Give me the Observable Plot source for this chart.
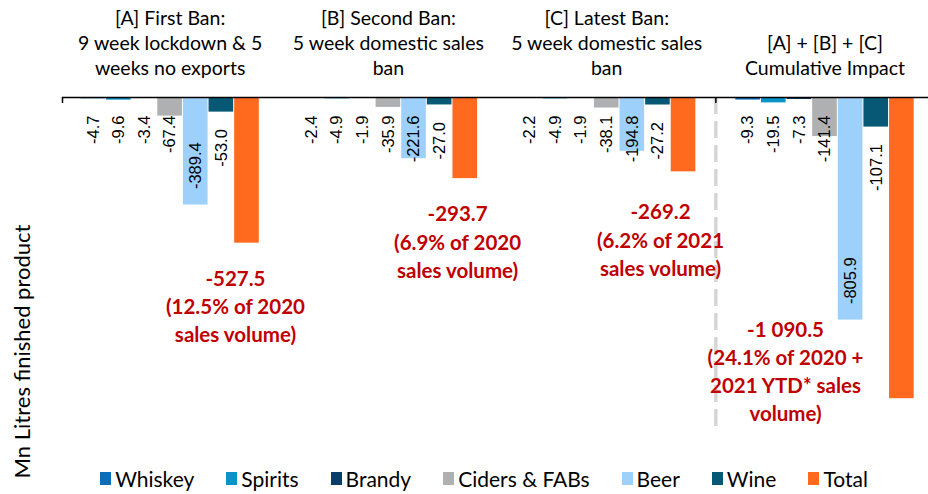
<!DOCTYPE html>
<html>
<head>
<meta charset="utf-8">
<script src="https://cdn.jsdelivr.net/npm/d3@7"></script>
<script src="https://cdn.jsdelivr.net/npm/@observablehq/plot@0.6"></script>
<style>
  html, body { margin: 0; padding: 0; background: #fff; }
  #chart svg { display: block; }
  #legend { display: flex; justify-content: center; align-items: center; height: 32px; padding-left: 40px;
            font-family: Lato, sans-serif; font-size: 21px; color: #000; }
  .item { display: flex; align-items: center; margin: 0 16px; }
  .sw { width: 11px; height: 13px; margin-right: 4px; }
</style>
</head>
<body>
<div id="chart"></div>
<div id="legend"></div>
<script>
// ---- data ----
const groups = ["A", "B", "C", "D"];
const groupTitles = [
  "[A] First Ban:\n9 week lockdown & 5\nweeks no exports",
  "[B] Second Ban:\n5 week domestic sales\nban",
  "[C] Latest Ban:\n5 week domestic sales\nban",
  "[A] + [B] + [C]\nCumulative Impact"
];
const series = ["Whiskey", "Spirits", "Brandy", "Ciders & FABs", "Beer", "Wine", "Total"];
const colors = ["#0E6DB8", "#0A93C7", "#0B3D6B", "#AEB0B1", "#9DD0FB", "#075875", "#FF6A1F"];
const firstBan   = [-4.7, -9.6, -3.4, -67.4, -389.4, -53.0, -527.5];
const secondBan  = [-2.4, -4.9, -1.9, -35.9, -221.6, -27.0, -293.7];
const latestBan  = [-2.2, -4.9, -1.9, -38.1, -194.8, -27.2, -269.2];
const cumulative = [-9.3, -19.5, -7.3, -141.4, -805.9, -107.1, -1090.5];
const totalLabels = ["-527.5", "-293.7", "-269.2", "-1 090.5"];
const shareLabels = [
  "(12.5% of 2020\nsales volume)",
  "(6.9% of 2020\nsales volume)",
  "(6.2% of 2021\nsales volume)",
  "(24.1% of 2020 +\n2021 YTD* sales\nvolume)"
];
const yLabel = "Mn Litres finished product";

// ---- layout ----
const W = 928, H = 462, TOP = 97;
const K = 0.2762;            // px per Mn litres
const YMIN = -1200;
const STEP = 8.52;           // group step in bar units
const XDOM = [-0.70, 33.10];
const values = [firstBan, secondBan, latestBan, cumulative];

const rows = [];
values.forEach((arr, g) => arr.forEach((v, s) => rows.push({
  g, s, series: series[s], value: v, x1: g * STEP + s, x2: g * STEP + s + 1, label: v.toFixed(1)
})));

const LABEL_FS = 16.5;
const ctx = document.createElement("canvas").getContext("2d");
ctx.font = LABEL_FS + "px 'Liberation Sans'";
const tlen = (t) => ctx.measureText(t).width;

const labelRows = rows.filter(d => d.series !== "Total");
const wineRows = labelRows.filter(d => d.series === "Wine");
const other = labelRows.filter(d => d.series !== "Wine");
const fitsInside = d => Math.abs(d.value) * K > 34 + tlen(d.label);
const insideEnd = other.filter(fitsInside);
const atBase = other.filter(d => !fitsInside(d));

const divX = 2 * STEP + 7 + (STEP - 7) / 2;
const annot = [
  {x: 6.05, y: -608},
  {x: 14.72, y: -376},
  {x: 22.64, y: -369},
  {x: 27.52, y: -793}
].map((p, i) => ({...p, text: totalLabels[i] + "\n" + shareLabels[i]}));

const labelStyle = {fontFamily: "Liberation Sans, Arial, sans-serif", fontSize: LABEL_FS, rotate: -90, fill: "#000", lineAnchor: "middle"};

const chart = Plot.plot({
  width: W, height: H,
  marginLeft: 62, marginRight: 0, marginTop: TOP, marginBottom: H - TOP - (-YMIN) * K,
  x: {type: "linear", domain: XDOM, axis: null},
  y: {domain: [YMIN, 0], axis: null},
  color: {domain: series, range: colors},
  style: {fontFamily: "Lato, sans-serif", background: "#fff", overflow: "visible"},
  marks: [
    Plot.ruleX([divX], {y1: 0, y2: -(430 - TOP) / K, stroke: "#D6D6D6", strokeWidth: 3.5, strokeDasharray: "17,7"}),
    Plot.rectY(rows, {x1: "x1", x2: "x2", y: "value", fill: "series", insetLeft: 0.5, insetRight: 0.5}),
    Plot.ruleY([0], {stroke: "#000", strokeWidth: 1.5}),
    Plot.ruleX([XDOM[0], divX], {y1: 0, y2: -6 / K, stroke: "#000", strokeWidth: 1.5}),
    Plot.text(atBase, {x: d => (d.x1 + d.x2) / 2, y: 0, dy: 18, text: "label", textAnchor: "end", ...labelStyle}),
    Plot.text(insideEnd, {x: d => (d.x1 + d.x2) / 2, y: "value", dy: -16, text: "label", textAnchor: "start", ...labelStyle}),
    Plot.text(wineRows, {x: d => (d.x1 + d.x2) / 2, y: "value", dy: 17, text: "label", textAnchor: "end", ...labelStyle}),
    Plot.text(groups, {x: (d, i) => i * STEP + 3.5, y: (TOP - 74) / K, text: (d, i) => groupTitles[i],
      lineAnchor: "bottom", fontSize: 19.5, lineHeight: 1.28, fill: "#000"}),
    Plot.text(annot, {x: "x", y: "y", text: "text", lineAnchor: "top", fontSize: 20.5, fontWeight: "bold",
      lineHeight: 1.38, fill: "#C00000"}),
    Plot.text([yLabel], {x: XDOM[0], y: -(351 - TOP) / K, dx: -40, rotate: -90, fontSize: 22, fill: "#000"})
  ]
});
document.getElementById("chart").appendChild(chart);

const legend = document.getElementById("legend");
series.forEach((s, i) => {
  const it = document.createElement("div");
  it.className = "item";
  it.innerHTML = `<span class="sw" style="background:${colors[i]}"></span><span>${s}</span>`;
  legend.appendChild(it);
});
</script>
</body>
</html>
